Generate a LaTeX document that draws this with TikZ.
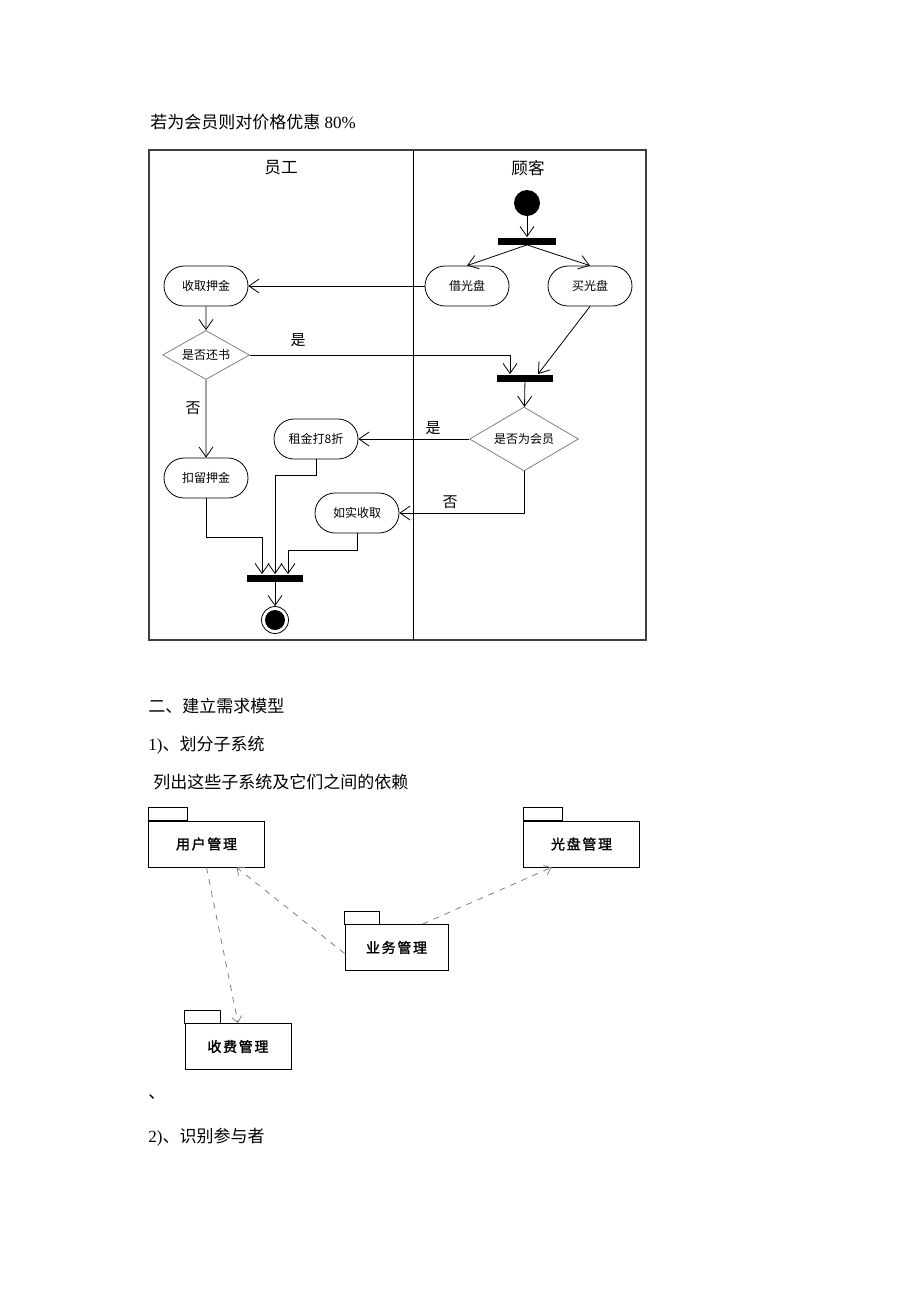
\documentclass[tikz,border=0pt]{standalone}
\usepackage{fontspec}
\setmainfont{Liberation Serif}
\newfontfamily\cjk[AutoFakeBold=1.5]{Noto Sans CJK SC}
\newfontfamily\cjkwide[AutoFakeBold=1.5,LetterSpace=12]{Noto Sans CJK SC}
\usetikzlibrary{arrows.meta}
\usetikzlibrary{shapes.misc}
\usetikzlibrary{shapes.geometric}

\begin{document}
\begin{tikzpicture}[
        x=0.5pt, y=-0.5pt,
        >={Straight Barb[length=5pt,width=7pt]},
        act/.style={rounded rectangle, draw, minimum width=42pt, minimum height=20pt,
            inner sep=0pt, font=\cjk\fontsize{6pt}{7pt}\selectfont},
        choice/.style={diamond, draw=gray, shape aspect=2, inner sep=0pt,
            font=\cjk\fontsize{6pt}{7pt}\selectfont},
        bar/.style={rectangle, fill=black, minimum width=29pt, minimum height=3.5pt, inner sep=0pt},
        guard/.style={font=\cjk\fontsize{7.5pt}{8pt}\selectfont, inner sep=0pt},
        lane/.style={font=\cjk\fontsize{8.3pt}{9pt}\selectfont, inner sep=0pt},
        para/.style={anchor=west, inner sep=0pt, font=\fontsize{8.5pt}{10pt}\selectfont},
        pkg/.style={rectangle, draw, minimum width=58pt, minimum height=23pt, inner sep=0pt,
            font=\cjkwide\bfseries\fontsize{7pt}{8pt}\selectfont},
        dep/.style={draw=gray, dashed, -{Straight Barb[length=3pt,width=5pt]}}
    ]
        \useasboundingbox (0,0) rectangle (920,1302);

        \node[para] (t1) at (150,122) {{\cjk 若为会员则对价格优惠} 80\%};

        % swimlanes
        \draw[line width=1pt, black!75] (149,150) rectangle (646,640);
        \draw (413,150) -- (413,640);
        \node[lane] (yuangong) at (281,168) {员工};
        \node[lane] (guke) at (528,168) {顾客};

        \node[circle, fill=black, minimum size=13pt, inner sep=0pt] (start) at (527,203) {};
        \node[bar] (bar1) at (527,241) {};
        \node[act] (jie) at (467,286) {借光盘};
        \node[act] (mai) at (590,286) {买光盘};
        \node[act] (shouqu) at (206,286) {收取押金};
        \node[choice, minimum width=43.5pt, minimum height=24.5pt] (huanshu) at (206,355) {是否还书};
        \node[bar, minimum width=28pt] (bar2) at (525,378) {};
        \node[choice, minimum width=54.5pt, minimum height=32pt] (huiyuan) at (524,439) {是否为会员};
        \node[act] (zujin) at (316,439) {租金打8折};
        \node[act] (rushi) at (357,513) {如实收取};
        \node[act] (kouliu) at (206,478) {扣留押金};
        \node[bar, minimum width=28pt] (bar3) at (275,578) {};
        \node[circle, draw, minimum size=13.5pt, inner sep=0pt,
            path picture={\fill (path picture bounding box.center) circle (5pt);}] (end) at (275,620) {};

        \draw[->] (start) -- (bar1);
        \draw[->] (bar1.south) -- (jie.north);
        \draw[->] (bar1.south) -- (mai.north);
        \draw[->] (jie.west) -- (shouqu.east);
        \draw[->] (shouqu) -- (huanshu);
        \draw[->] (huanshu.east) -| ([xshift=-7.5pt]bar2.north);
        \draw[->] (mai.south) -- ([xshift=6.5pt]bar2.north);
        \draw[->] (bar2) -- (huiyuan);
        \draw[->] (huiyuan.west) -- (zujin.east);
        \draw[->] (huiyuan.south) |- (rushi.east);
        \draw[->] (huanshu) -- (kouliu);
        \draw[->] (kouliu.south) -- ++(0,39) -| ([xshift=-6.5pt]bar3.north);
        \draw[->] (zujin.south) -- ++(0,16) -| (bar3.north);
        \draw[->] (rushi.south) -- ++(0,17) -| ([xshift=6.5pt]bar3.north);
        \draw[->] (bar3) -- (end);

        \node[guard] at (298,340) {是};
        \node[guard] at (433,428) {是};
        \node[guard] at (450,502) {否};
        \node[guard] at (193,408) {否};

        % text between the diagrams
        \node[para] (t2) at (148,706) {{\cjk 二、建立需求模型}};
        \node[para] (t3) at (148,745) {1){\cjk 、划分子系统}};
        \node[para] (t4) at (153,782) {{\cjk 列出这些子系统及它们之间的依赖}};

        % packages
        \node[pkg] (yonghu) at (206.5,844) {用户管理};
        \node[pkg] (guangpan) at (581.5,844) {光盘管理};
        \node[pkg, minimum width=51.5pt] (yewu) at (396.5,947.5) {业务管理};
        \node[pkg, minimum width=53pt] (shoufei) at (238,1046.5) {收费管理};
        \draw (yonghu.north west) rectangle ++(39,-13);
        \draw (guangpan.north west) rectangle ++(39,-13);
        \draw (yewu.north west) rectangle ++(35,-13);
        \draw (shoufei.north west) rectangle ++(36,-13);

        \draw[dep] ([yshift=-3pt]yewu.west) -- ([xshift=15pt]yonghu.south);
        \draw[dep] ([xshift=13pt]yewu.north) -- ([xshift=-15pt]guangpan.south);
        \draw[dep] (yonghu.south) -- (shoufei.north);

        \node[para] (t5) at (148,1097) {{\cjk 、}};
        \node[para] (t6) at (148,1137) {2){\cjk 、识别参与者}};

    \end{tikzpicture}
\end{document}
